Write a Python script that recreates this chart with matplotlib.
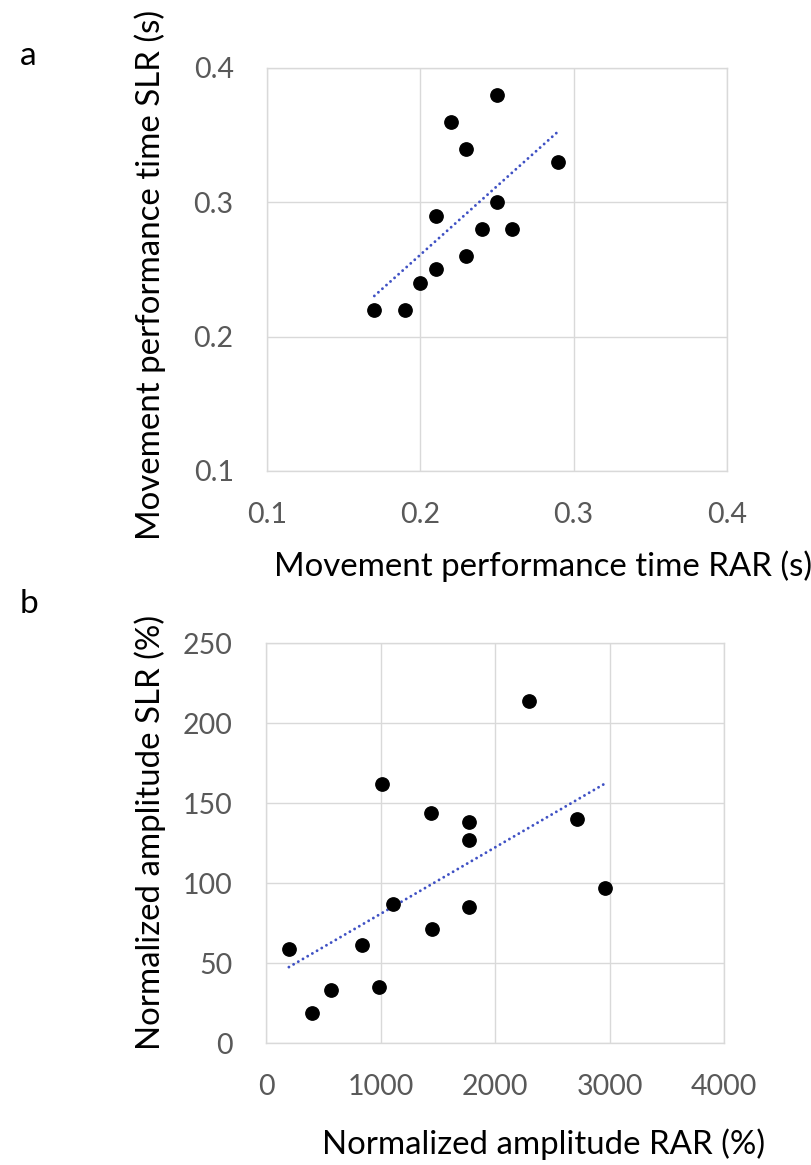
"""Two scatter panels (RAR vs SLR) with linear trendlines."""
import matplotlib
matplotlib.use("Agg")
import matplotlib.pyplot as plt
import numpy as np

plt.rcParams["font.family"] = ["Lato", "DejaVu Sans"]

# panel a: movement performance time (s)
time_rar = [0.17, 0.19, 0.20, 0.21, 0.21, 0.22, 0.23, 0.23, 0.24, 0.25, 0.25, 0.26, 0.29]
time_slr = [0.22, 0.22, 0.24, 0.25, 0.29, 0.36, 0.34, 0.26, 0.28, 0.38, 0.30, 0.28, 0.33]
time_ticks = [0.1, 0.2, 0.3, 0.4]

# panel b: normalized amplitude (%)
amp_rar = [200, 400, 570, 840, 990, 1010, 1110, 1440, 1450, 1770, 1770, 1770, 2300, 2720, 2960]
amp_slr = [59, 19, 33, 61, 35, 162, 87, 144, 71, 138, 127, 85, 214, 140, 97]
amp_xticks = [0, 1000, 2000, 3000, 4000]
amp_yticks = [0, 50, 100, 150, 200, 250]

GRID = "#d9d9d9"
TICK = "#595959"
TREND = "#3f51c4"


def style_axes(ax, xticks, yticks, xfmt, yfmt):
    ax.set_xlim(xticks[0], xticks[-1])
    ax.set_ylim(yticks[0], yticks[-1])
    ax.set_xticks(xticks)
    ax.set_yticks(yticks)
    ax.set_xticklabels([xfmt(v) for v in xticks])
    ax.set_yticklabels([yfmt(v) for v in yticks])
    ax.grid(True, color=GRID, linewidth=1.0)
    ax.set_axisbelow(True)
    for sp in ax.spines.values():
        sp.set_color(GRID)
        sp.set_linewidth(1.0)
    ax.tick_params(length=0, labelsize=20.5, labelcolor=TICK)
    ax.tick_params(axis="y", pad=24)
    ax.tick_params(axis="x", pad=22)


def scatter_with_trend(ax, x, y):
    ax.plot(x, y, "o", color="black", markersize=9.6, zorder=3)
    slope, icpt = np.polyfit(x, y, 1)
    xs = np.array([min(x), max(x)])
    ax.plot(xs, slope * xs + icpt, color=TREND, linewidth=2.1,
            linestyle=(0, (0.01, 1.85)), dash_capstyle="round", zorder=2)


fig = plt.figure(figsize=(8.11, 11.65), dpi=100)

ax_a = fig.add_axes([267 / 811, 1 - 471 / 1165, 460 / 811, 403 / 1165])
style_axes(ax_a, time_ticks, time_ticks, lambda v: f"{v:.1f}", lambda v: f"{v:.1f}")
scatter_with_trend(ax_a, time_rar, time_slr)
fig.text(543 / 811, 1 - 566 / 1165, "Movement performance time RAR (s)",
         ha="center", va="center", fontsize=23.8)
fig.text(150 / 811, 1 - 275 / 1165, "Movement performance time SLR (s)",
         ha="center", va="center", rotation=90, fontsize=23.8)
fig.text(20 / 811, 1 - 56 / 1165, "a", ha="left", va="center", fontsize=24)

ax_b = fig.add_axes([266 / 811, 1 - 1043 / 1165, 458 / 811, 400 / 1165])
style_axes(ax_b, amp_xticks, amp_yticks, lambda v: f"{v:d}", lambda v: f"{v:d}")
scatter_with_trend(ax_b, amp_rar, amp_slr)
fig.text(544 / 811, 1 - 1144 / 1165, "Normalized amplitude RAR (%)",
         ha="center", va="center", fontsize=23.8)
fig.text(150 / 811, 1 - 832 / 1165, "Normalized amplitude SLR (%)",
         ha="center", va="center", rotation=90, fontsize=23.8)
fig.text(20 / 811, 1 - 604 / 1165, "b", ha="left", va="center", fontsize=24)

fig.savefig("out.png", dpi=100)
